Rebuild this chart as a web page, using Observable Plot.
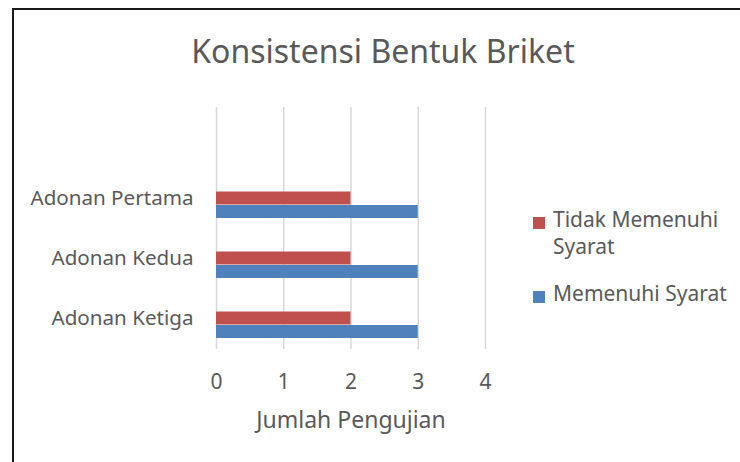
<!DOCTYPE html>
<html>
<head>
<meta charset="utf-8">
<script src="https://cdn.jsdelivr.net/npm/d3@7"></script>
<script src="https://cdn.jsdelivr.net/npm/@observablehq/plot@0.6"></script>
<style>
  html, body { margin: 0; padding: 0; background: #fff; }
  #wrap { position: relative; width: 740px; height: 462px; overflow: hidden;
          font-family: "Noto Sans", sans-serif; color: #595959; background: #fff; }
  #chart { position: absolute; left: 0; top: 0; }
  #frame { position: absolute; left: 12px; top: 8px; width: 760px; height: 480px;
           border-left: 2px solid #1a1a1a; border-top: 2px solid #1a1a1a; pointer-events: none; }
  #title { position: absolute; left: 0; width: 766px; top: 35px; text-align: center;
           font-size: 32px; line-height: 1; white-space: nowrap; }
  .legend-item { position: absolute; left: 553px; font-size: 21px; line-height: 27px; }
  .legend-swatch { position: absolute; left: -20px; top: 11px; width: 12px; height: 12px; }
</style>
</head>
<body>
<div id="wrap">
  <div id="chart"></div>
  <div id="title"></div>
  <div id="legend"></div>
  <div id="frame"></div>
</div>
<script>
const title = "Konsistensi Bentuk Briket";
const categories = ["Adonan Pertama", "Adonan Kedua", "Adonan Ketiga"];
const seriesNames = ["Tidak Memenuhi Syarat", "Memenuhi Syarat"];
const tidakMemenuhi = [2, 2, 2];
const memenuhi = [3, 3, 3];
const xTicks = [0, 1, 2, 3, 4];
const xLabel = "Jumlah Pengujian";
const seriesColors = ["#C0504D", "#4F81BD"];

const rows = categories.flatMap((c, i) => [
  {category: c, series: seriesNames[0], value: tidakMemenuhi[i]},
  {category: c, series: seriesNames[1], value: memenuhi[i]}
]);

const chart = Plot.plot({
  width: 740,
  height: 462,
  marginLeft: 216,
  marginRight: 255,
  marginTop: 107,
  marginBottom: 113,
  style: {fontFamily: "'Noto Sans', sans-serif", fontSize: "21px", color: "#595959",
          background: "transparent", overflow: "visible"},
  x: {domain: [0, 4], axis: null},
  y: {domain: ["", ...categories], padding: 0, axis: null},
  color: {domain: seriesNames, range: seriesColors},
  marks: [
    Plot.gridX(xTicks, {stroke: "#d9d9d9", strokeOpacity: 1, strokeWidth: 1.5}),
    Plot.barX(rows.filter(d => d.series === seriesNames[0]),
      {x: "value", y: "category", fill: "series", insetTop: 23.5, insetBottom: 23.5}),
    Plot.barX(rows.filter(d => d.series === seriesNames[1]),
      {x: "value", y: "category", fill: "series", insetTop: 37, insetBottom: 10}),
    Plot.axisX(xTicks, {tickSize: 0, tickPadding: 25, label: null}),
    Plot.axisY(categories, {tickSize: 0, tickPadding: 23, label: null, fontSize: 20.6}),
    Plot.text([xLabel], {text: d => d, frameAnchor: "bottom", dy: 71, lineAnchor: "middle",
      fontSize: 23, fill: "#595959"})
  ]
});
document.getElementById("chart").appendChild(chart);
document.getElementById("title").textContent = title;

const legend = document.getElementById("legend");
const legendTops = [206, 280];
const legendWidths = ["170px", "auto"];
seriesNames.forEach((name, i) => {
  const item = document.createElement("div");
  item.className = "legend-item";
  item.style.top = legendTops[i] + "px";
  item.style.width = legendWidths[i];
  if (i === 1) item.style.whiteSpace = "nowrap";
  const sw = document.createElement("div");
  sw.className = "legend-swatch";
  sw.style.background = seriesColors[i];
  item.appendChild(sw);
  item.appendChild(document.createTextNode(name));
  legend.appendChild(item);
});
</script>
</body>
</html>
